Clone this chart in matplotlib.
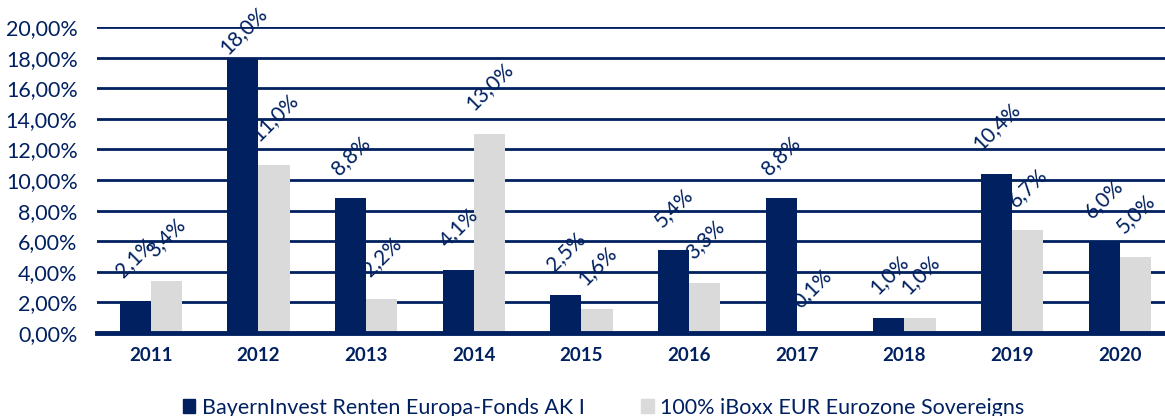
import numpy as np
import matplotlib
matplotlib.use("Agg")
from matplotlib import pyplot as plt
from matplotlib.patches import Patch
from matplotlib.ticker import FuncFormatter

plt.rcParams['font.family'] = ['Lato', 'DejaVu Sans']

years = ['2011', '2012', '2013', '2014', '2015', '2016', '2017', '2018', '2019', '2020']
fund = [2.1, 18.0, 8.8, 4.1, 2.5, 5.4, 8.8, 1.0, 10.4, 6.0]
bench = [3.4, 11.0, 2.2, 13.0, 1.6, 3.3, 0.1, 1.0, 6.7, 5.0]
fund_name = 'BayernInvest Renten Europa-Fonds AK I'
bench_name = '100% iBoxx EUR Eurozone Sovereigns'

navy = '#002060'
grey = '#DADADA'

fig = plt.figure(figsize=(11.65, 4.16), dpi=100)
ax = fig.add_axes([97 / 1165, 1 - 333 / 416, 1 - 97 / 1165, (333 - 27) / 416])

x = np.arange(len(years))
w = 0.29
b1 = ax.bar(x - w / 2, fund, w, color=navy, zorder=3)
b2 = ax.bar(x + w / 2, bench, w, color=grey, zorder=3)

# labels sit a bit above the bars, but never above the 18% line
for bars, vals in ((b1, fund), (b2, bench)):
    for r, v in zip(bars, vals):
        ax.text(r.get_x() + r.get_width() / 2, min(v + 1.3, 18.0), f'{v:.1f}%'.replace('.', ','),
                rotation=45, ha='center', va='bottom', color=navy, fontsize=15, zorder=4)

ax.set_ylim(0, 20)
ax.set_xlim(-0.5, 9.42)
ax.set_yticks(np.arange(0, 21, 2))
ax.yaxis.set_major_formatter(FuncFormatter(lambda v, p: f'{v:.2f}%'.replace('.', ',')))
ax.grid(axis='y', color=navy, lw=2.0, zorder=0)
ax.set_xticks(x)
ax.set_xticklabels(years, fontweight='bold', color=navy, fontsize=13.5)
ax.tick_params(axis='both', length=0)
ax.tick_params(axis='y', labelsize=15.5, labelcolor=navy, pad=14)
ax.tick_params(axis='x', pad=10)
for s in ['top', 'right', 'left']:
    ax.spines[s].set_visible(False)
ax.spines['bottom'].set_color(navy)
ax.spines['bottom'].set_linewidth(3.5)
ax.spines['bottom'].set_zorder(5)

handles = [Patch(color=navy), Patch(color=grey)]
fig.legend(handles, [fund_name, bench_name], loc='center', ncol=2, frameon=False,
           bbox_to_anchor=(0.518, 0.02), fontsize=15.5, labelcolor=navy,
           handlelength=0.6, handleheight=0.6, handletextpad=0.3, columnspacing=2.6)

fig.savefig('out.png', dpi=100)
